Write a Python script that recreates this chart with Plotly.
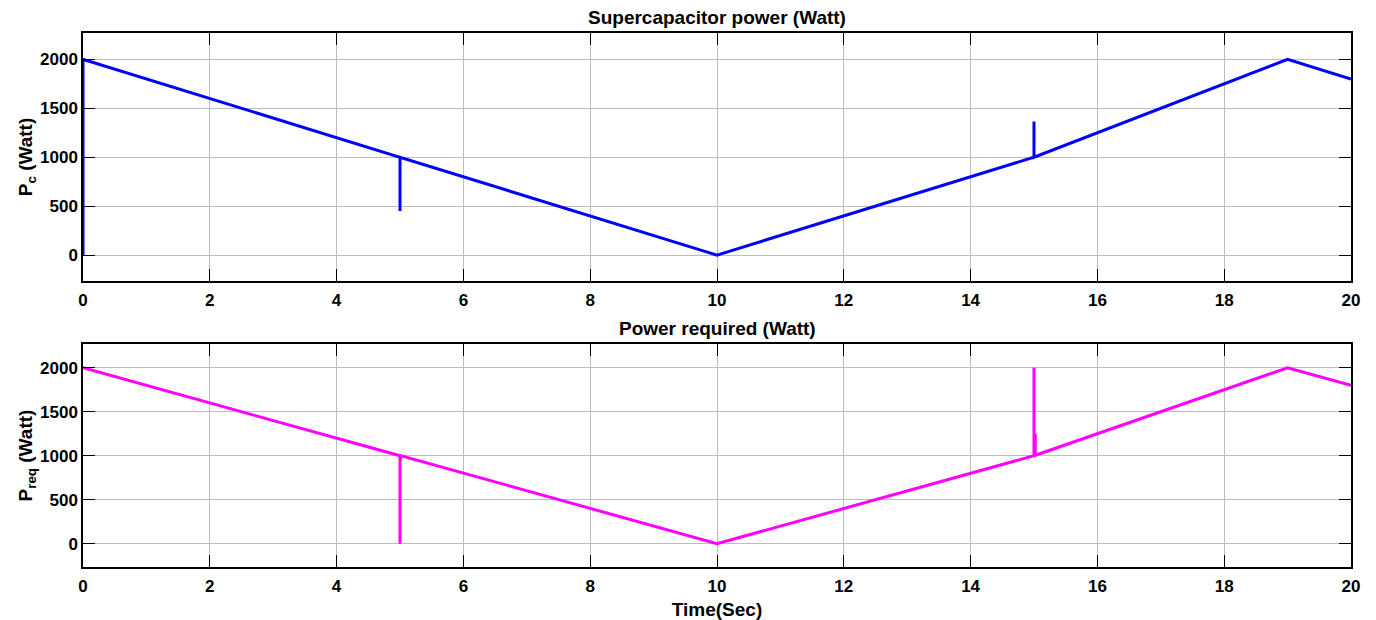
import plotly.graph_objects as go
from plotly.subplots import make_subplots

# Supercapacitor power (top)
t_c = [0, 0, 5, 5, 5, 10, 15, 15, 15, 19, 20]
p_c = [0, 2000, 1000, 450, 1000, 0, 1000, 1365, 1000, 2000, 1800]

# Power required (bottom)
t_req = [0, 5, 5, 5, 5, 5.02, 10, 15, 15, 15, 15.02, 15.02, 19, 20]
p_req = [2000, 1000, 0, 1000, 950, 1000, 0, 1000, 2000, 1000, 1250, 1005, 2000, 1800]

x_ticks = [0, 2, 4, 6, 8, 10, 12, 14, 16, 18, 20]
y_ticks = [0, 500, 1000, 1500, 2000]

FONT = "Liberation Sans, Arial, sans-serif"
TITLE_FONT = dict(family=FONT, size=19, color="black", weight="bold")

fig = make_subplots(rows=2, cols=1, shared_xaxes=False, vertical_spacing=0.118)

fig.add_trace(go.Scatter(x=t_c, y=p_c, mode="lines",
                         line=dict(color="#0000ff", width=3), showlegend=False), row=1, col=1)
fig.add_trace(go.Scatter(x=t_req, y=p_req, mode="lines",
                         line=dict(color="#ff00ff", width=3), showlegend=False), row=2, col=1)

axis_common = dict(showline=True, linecolor="black", linewidth=1.5, mirror="ticks",
                   ticks="inside", ticklen=12, tickcolor="black", showgrid=True,
                   gridcolor="#bdbdbd", gridwidth=1, zeroline=False, automargin=False,
                   tickfont=dict(family=FONT, size=17, color="black", weight="bold"))

fig.update_xaxes(range=[0, 20], tickvals=x_ticks, ticklabelstandoff=3, **axis_common)
fig.update_yaxes(range=[-265, 2270], tickvals=y_ticks, **axis_common)

fig.update_layout(
    width=1376, height=620,
    margin=dict(l=83, r=25, t=33, b=53),
    plot_bgcolor="white", paper_bgcolor="white",
    xaxis=dict(domain=[0, 1]),
    yaxis=dict(domain=[0.5356, 1.0],
               title=dict(text="P<sub>c</sub> (Watt)", standoff=2, font=TITLE_FONT)),
    xaxis2=dict(domain=[0, 1],
                title=dict(text="Time(Sec)", standoff=8, font=TITLE_FONT)),
    yaxis2=dict(domain=[0.0, 0.4176],
                title=dict(text="P<sub>req</sub> (Watt)", standoff=2, font=TITLE_FONT)),
)

fig.add_annotation(text="Supercapacitor power (Watt)", xref="paper", yref="paper",
                   x=0.5, y=1.0, yshift=3, xanchor="center", yanchor="bottom", showarrow=False,
                   font=TITLE_FONT)
fig.add_annotation(text="Power required (Watt)", xref="paper", yref="paper",
                   x=0.5, y=0.4176, yshift=3, xanchor="center", yanchor="bottom", showarrow=False,
                   font=TITLE_FONT)

fig.write_html("out.html")
